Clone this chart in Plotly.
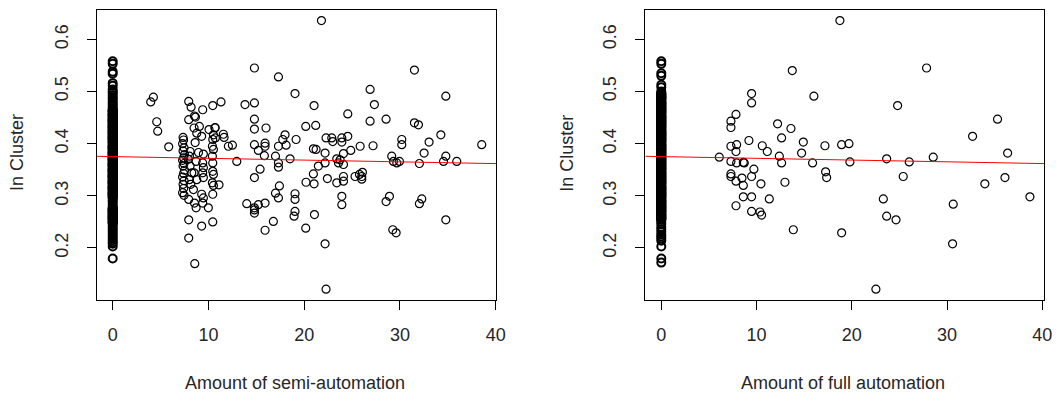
import plotly.graph_objects as go

# ---------------- data ----------------
# Left panel: semi-automation, observations at x = 0
semi_zero_y = [
    0.558, 0.553, 0.538, 0.534, 0.516, 0.511, 0.504, 0.500, 0.497, 0.493, 0.489, 0.486,
    0.482, 0.478, 0.475, 0.471, 0.468,
    0.465, 0.463, 0.461, 0.458, 0.456, 0.454, 0.452, 0.449, 0.447, 0.445, 0.443, 0.441,
    0.438, 0.436, 0.434, 0.432, 0.430, 0.427, 0.425, 0.423, 0.421, 0.419, 0.416, 0.414,
    0.412, 0.410, 0.408, 0.405, 0.403, 0.401, 0.397, 0.395, 0.393, 0.391, 0.389, 0.386,
    0.384, 0.382, 0.380, 0.378, 0.375, 0.373, 0.371, 0.369, 0.367, 0.364, 0.362, 0.360,
    0.358, 0.356, 0.353, 0.351, 0.349, 0.347, 0.345, 0.342, 0.340, 0.338, 0.336, 0.334,
    0.331, 0.329, 0.327, 0.325, 0.323, 0.320, 0.318, 0.316, 0.314, 0.312, 0.309, 0.307,
    0.305, 0.303, 0.301, 0.298, 0.296,
    0.464, 0.462, 0.460, 0.457, 0.455, 0.453, 0.450, 0.448, 0.446, 0.444, 0.442, 0.440,
    0.437, 0.435, 0.433, 0.431, 0.429, 0.426, 0.424, 0.422, 0.420, 0.418, 0.415, 0.413,
    0.411, 0.409, 0.407, 0.404, 0.402, 0.399, 0.396, 0.394, 0.392, 0.390, 0.388, 0.385,
    0.383, 0.381, 0.379, 0.376, 0.374, 0.372, 0.370, 0.368, 0.366, 0.363, 0.361, 0.359,
    0.357, 0.355, 0.352, 0.350, 0.348, 0.346, 0.344, 0.341, 0.339, 0.337, 0.335, 0.333,
    0.330, 0.328, 0.326, 0.324, 0.322, 0.319, 0.317, 0.315, 0.313, 0.311, 0.308, 0.306,
    0.304, 0.302, 0.300, 0.297,
    0.292, 0.289, 0.285, 0.281, 0.277, 0.275, 0.273, 0.271, 0.269, 0.267, 0.264, 0.262,
    0.260, 0.258, 0.256, 0.254, 0.251, 0.249, 0.247,
    0.276, 0.274, 0.272, 0.270, 0.268, 0.265, 0.263, 0.261, 0.259, 0.257, 0.255, 0.252,
    0.250, 0.248,
    0.243, 0.239, 0.235, 0.231, 0.227, 0.223, 0.219, 0.215, 0.211, 0.208, 0.203, 0.180,
]

semi_x = [
    3.97, 4.25, 4.60, 4.70, 5.85,
    7.35, 7.40, 7.30, 7.45, 7.35, 7.50, 7.40, 7.30, 7.45, 7.35, 7.50, 7.40, 7.30, 7.45,
    7.35, 7.40, 7.30, 7.45,
    7.94, 8.19, 7.94, 8.08, 8.01, 7.90, 8.08, 8.26, 8.01, 8.15, 7.94, 7.94, 7.94,
    8.54, 8.64, 8.50, 8.78, 8.61, 8.96, 8.71, 8.50, 8.78, 8.43, 8.54, 8.71, 8.57, 9.05,
    9.40, 9.29, 9.47, 9.40, 9.47, 9.40, 9.47, 9.29, 9.47, 9.40, 9.29,
    10.06, 9.99,
    10.45, 10.69, 10.52, 10.45, 10.41, 10.52, 10.41, 10.45, 10.45, 10.52, 10.41, 10.52,
    10.45, 10.45, 10.72, 10.69,
    11.31, 11.10, 11.56, 11.63, 12.08, 12.50, 12.96,
    13.82, 14.80, 14.80, 14.80, 14.80, 14.80, 15.21, 15.39, 14.80, 14.00, 14.80, 14.80,
    14.80, 15.21, 15.91, 16.01, 15.91, 15.91, 15.84, 15.91, 16.78, 17.00, 17.00, 17.31,
    17.31, 17.31, 17.31, 17.31, 17.41, 17.76, 18.00, 18.11, 18.52, 19.04, 19.15, 19.04,
    19.04, 19.04, 18.94, 20.16, 20.19, 20.16, 21.03, 21.20, 20.96, 21.24, 20.96, 21.03,
    21.07, 21.48, 21.80, 22.18, 22.18, 22.18, 22.28, 22.42, 22.28, 22.88, 22.98, 23.40,
    23.40, 23.58, 23.75, 23.93, 23.93, 23.93, 23.93, 24.10, 24.10, 24.10, 24.10, 24.55,
    24.55, 24.86, 25.31, 25.77, 25.84, 26.01, 26.01, 26.08, 26.88, 26.88, 27.19, 27.33,
    28.55, 28.55, 28.90, 29.14, 29.25, 29.60, 29.32, 29.67, 29.95, 30.19, 30.19, 31.51,
    31.51, 31.93, 32.03, 32.03, 32.28, 32.52, 33.04, 34.27, 34.55, 34.79, 34.79, 34.79,
    35.93, 38.54,
]
semi_y = [
    0.480, 0.489, 0.442, 0.424, 0.394,
    0.412, 0.407, 0.400, 0.392, 0.386, 0.379, 0.373, 0.368, 0.362, 0.357, 0.349, 0.343,
    0.336, 0.329, 0.322, 0.314, 0.306, 0.301,
    0.481, 0.470, 0.446, 0.385, 0.376, 0.370, 0.357, 0.344, 0.331, 0.322, 0.293, 0.254,
    0.219,
    0.453, 0.451, 0.430, 0.420, 0.402, 0.383, 0.366, 0.344, 0.331, 0.312, 0.286, 0.277,
    0.170, 0.433,
    0.465, 0.414, 0.380, 0.363, 0.354, 0.344, 0.335, 0.303, 0.296, 0.286, 0.242,
    0.427, 0.277,
    0.473, 0.430, 0.417, 0.408, 0.395, 0.389, 0.376, 0.363, 0.347, 0.341, 0.325, 0.320,
    0.303, 0.250, 0.411, 0.431,
    0.480, 0.321, 0.418, 0.412, 0.395, 0.397, 0.366,
    0.475, 0.545, 0.478, 0.447, 0.428, 0.398, 0.387, 0.351, 0.335, 0.285, 0.277, 0.273,
    0.267, 0.283, 0.286, 0.430, 0.401, 0.395, 0.377, 0.234, 0.251, 0.376, 0.305, 0.296,
    0.528, 0.395, 0.363, 0.355, 0.319, 0.408, 0.417, 0.397, 0.371, 0.496, 0.408, 0.304,
    0.293, 0.270, 0.261, 0.433, 0.326, 0.238, 0.473, 0.435, 0.390, 0.389, 0.342, 0.323,
    0.264, 0.357, 0.636, 0.382, 0.363, 0.208, 0.411, 0.333, 0.121, 0.411, 0.404, 0.371,
    0.325, 0.363, 0.369, 0.411, 0.403, 0.299, 0.283, 0.381, 0.360, 0.337, 0.328, 0.414,
    0.457, 0.387, 0.337, 0.341, 0.395, 0.337, 0.332, 0.345, 0.504, 0.443, 0.396, 0.475,
    0.447, 0.289, 0.299, 0.376, 0.235, 0.229, 0.366, 0.363, 0.366, 0.408, 0.398, 0.541,
    0.440, 0.436, 0.362, 0.285, 0.294, 0.382, 0.403, 0.417, 0.366, 0.254, 0.376, 0.491,
    0.366, 0.398,
]

# Right panel: full automation, observations at x = 0
full_zero_y = [
    0.558, 0.553, 0.535, 0.530, 0.513, 0.508, 0.500,
    0.497, 0.495, 0.493, 0.491, 0.489, 0.487, 0.485, 0.482, 0.480, 0.478, 0.476, 0.474,
    0.472, 0.470, 0.468, 0.466, 0.464, 0.462, 0.460, 0.458, 0.455, 0.453, 0.451, 0.449,
    0.447, 0.445, 0.443, 0.441, 0.439, 0.437, 0.435, 0.433, 0.431, 0.428, 0.426, 0.424,
    0.422, 0.420, 0.418, 0.416, 0.414, 0.412, 0.410, 0.408, 0.406, 0.404, 0.401, 0.399,
    0.397, 0.395, 0.393, 0.391, 0.389, 0.387, 0.385, 0.383, 0.381, 0.379, 0.377, 0.374,
    0.372, 0.370, 0.368, 0.366, 0.364, 0.362, 0.360, 0.358, 0.356, 0.354, 0.352, 0.350,
    0.347, 0.345, 0.343, 0.341, 0.339, 0.337, 0.335, 0.333, 0.331, 0.329, 0.327, 0.325,
    0.323, 0.320, 0.318, 0.316, 0.314, 0.312, 0.310, 0.308, 0.306, 0.304, 0.302, 0.300,
    0.298, 0.296, 0.293, 0.291, 0.289, 0.287, 0.285, 0.283, 0.281, 0.279, 0.277, 0.275,
    0.273, 0.271, 0.269, 0.266, 0.264, 0.262, 0.260, 0.258, 0.256, 0.254,
    0.496, 0.494, 0.492, 0.490, 0.488, 0.486, 0.484, 0.481, 0.479, 0.477, 0.475, 0.473,
    0.471, 0.469, 0.467, 0.465, 0.463, 0.461, 0.459, 0.457, 0.454, 0.452, 0.450, 0.448,
    0.446, 0.444, 0.442, 0.440, 0.438, 0.436, 0.434, 0.432, 0.430, 0.427, 0.425, 0.423,
    0.421, 0.419, 0.417, 0.415, 0.413, 0.411, 0.409, 0.407, 0.405, 0.403, 0.400, 0.398,
    0.396, 0.394, 0.392, 0.390, 0.388, 0.386, 0.384, 0.382, 0.380, 0.378, 0.376, 0.373,
    0.371, 0.369, 0.367, 0.365, 0.363, 0.361, 0.359, 0.357, 0.355, 0.353, 0.351, 0.349,
    0.346, 0.344, 0.342, 0.340, 0.338, 0.336, 0.334, 0.332, 0.330, 0.328, 0.326, 0.324,
    0.322, 0.319, 0.317, 0.315, 0.313, 0.311, 0.309, 0.307, 0.305, 0.303, 0.301, 0.299,
    0.297, 0.295, 0.292, 0.290, 0.288, 0.286, 0.284, 0.282, 0.280, 0.278, 0.276, 0.274,
    0.272, 0.270, 0.268, 0.265, 0.263, 0.261, 0.259, 0.257, 0.255,
    0.250, 0.246, 0.240, 0.236, 0.231, 0.226, 0.222, 0.218, 0.214, 0.203, 0.180, 0.172,
]

full_x = [
    6.09, 7.31, 7.31, 7.84, 7.31, 7.91, 7.84, 7.31, 7.91, 7.31, 7.31, 7.84, 7.84,
    8.61, 8.71, 8.47, 8.61, 8.61, 9.20, 9.48, 9.48, 9.48, 9.72, 9.48, 9.48,
    10.60, 11.13, 10.46, 10.36, 10.53, 11.34, 12.21, 12.39, 12.63, 12.63, 12.98,
    13.61, 13.75, 13.86, 14.73, 14.91, 15.88, 16.02, 17.18, 17.25, 17.36, 18.75, 18.93,
    18.93, 19.70, 19.80, 22.53, 23.31, 23.66, 23.66, 24.64, 24.81, 25.40, 26.03,
    27.85, 28.55, 30.58, 30.65, 32.68, 33.97, 35.30, 36.08, 36.36, 38.70,
]
full_y = [
    0.374, 0.443, 0.431, 0.456, 0.395, 0.398, 0.385, 0.366, 0.363, 0.342, 0.337, 0.328,
    0.281,
    0.364, 0.363, 0.334, 0.320, 0.298, 0.406, 0.496, 0.478, 0.337, 0.351, 0.298, 0.270,
    0.396, 0.385, 0.323, 0.269, 0.263, 0.294, 0.438, 0.376, 0.411, 0.363, 0.326,
    0.429, 0.540, 0.235, 0.382, 0.403, 0.363, 0.491, 0.396, 0.346, 0.335, 0.636, 0.398,
    0.229, 0.400, 0.365, 0.121, 0.294, 0.371, 0.261, 0.254, 0.473, 0.337, 0.365,
    0.545, 0.374, 0.208, 0.284, 0.414, 0.323, 0.447, 0.335, 0.382, 0.298,
]

# fitted regression lines (intercept, slope)
semi_fit = (0.3752, -0.000336)
full_fit = (0.3752, -0.000334)

x_ticks = [0, 10, 20, 30, 40]
y_ticks = [0.2, 0.3, 0.4, 0.5, 0.6]
y_tick_labels = ["0.2", "0.3", "0.4", "0.5", "0.6"]
y_title = "In Cluster"
x_titles = ["Amount of semi-automation", "Amount of full automation"]

# ---------------- figure ----------------
W, H = 1060, 394
FONT = "Arial, Liberation Sans, sans-serif"
TXT = "#262626"

x_range_left = [-1.64, 40.03]
x_range_right = [-1.68, 40.21]
y_range = [0.1003, 0.6562]

fig = go.Figure()

marker = dict(symbol="circle-open", size=8, color="black", line=dict(width=1.2, color="black"))
marker_dense = dict(symbol="circle-open", size=8, color="black", line=dict(width=2, color="black"))

fig.add_trace(go.Scatter(x=[0] * len(semi_zero_y), y=semi_zero_y, mode="markers",
                         marker=marker_dense, xaxis="x", yaxis="y", hoverinfo="skip"))
fig.add_trace(go.Scatter(x=semi_x, y=semi_y, mode="markers",
                         marker=marker, xaxis="x", yaxis="y"))
fig.add_trace(go.Scatter(x=[0] * len(full_zero_y), y=full_zero_y, mode="markers",
                         marker=marker_dense, xaxis="x2", yaxis="y2", hoverinfo="skip"))
fig.add_trace(go.Scatter(x=full_x, y=full_y, mode="markers",
                         marker=marker, xaxis="x2", yaxis="y2"))

for fit, xr, xa, ya in [(semi_fit, x_range_left, "x", "y"), (full_fit, x_range_right, "x2", "y2")]:
    a, b = fit
    fig.add_trace(go.Scatter(x=xr, y=[a + b * xr[0], a + b * xr[1]], mode="lines",
                             line=dict(color="#ff0000", width=1), xaxis=xa, yaxis=ya,
                             hoverinfo="skip"))

dom_left = [97 / W, 496 / W]
dom_right = [645.3 / W, 1044.3 / W]
dom_y = [1 - 300 / H, 1 - 10 / H]

common_x = dict(tickvals=x_ticks, ticks="outside", ticklen=9, tickwidth=1, tickcolor="black",
                showline=True, linecolor="black", linewidth=1, mirror=True,
                showgrid=False, zeroline=False, tickfont=dict(family=FONT, size=18, color=TXT),
                ticklabelstandoff=9)
common_y = dict(tickvals=y_ticks, ticktext=y_tick_labels, ticks="outside", ticklen=9,
                tickwidth=1, tickcolor="black", showline=True, linecolor="black", linewidth=1,
                mirror=True, showgrid=False, zeroline=False, tickangle=-90, range=y_range,
                tickfont=dict(family=FONT, size=18, color=TXT), ticklabelstandoff=12)

fig.update_layout(
    width=W, height=H,
    margin=dict(l=0, r=0, t=0, b=0, autoexpand=False),
    paper_bgcolor="white", plot_bgcolor="white",
    showlegend=False,
    xaxis=dict(domain=dom_left, range=x_range_left, anchor="y", **common_x),
    yaxis=dict(domain=dom_y, anchor="x", **common_y),
    xaxis2=dict(domain=dom_right, range=x_range_right, anchor="y2", **common_x),
    yaxis2=dict(domain=dom_y, anchor="x2", **common_y),
)

ann_font = dict(family=FONT, size=18, color=TXT)
fig.add_annotation(text=y_title, x=17 / W, y=1 - 153 / H, xref="paper", yref="paper",
                   textangle=-90, showarrow=False, font=ann_font, xanchor="center", yanchor="middle")
fig.add_annotation(text=y_title, x=566.7 / W, y=1 - 153 / H, xref="paper", yref="paper",
                   textangle=-90, showarrow=False, font=ann_font, xanchor="center", yanchor="middle")
fig.add_annotation(text=x_titles[0], x=295 / W, y=1 - 383 / H, xref="paper", yref="paper",
                   showarrow=False, font=ann_font, xanchor="center", yanchor="middle")
fig.add_annotation(text=x_titles[1], x=843.3 / W, y=1 - 383 / H, xref="paper", yref="paper",
                   showarrow=False, font=ann_font, xanchor="center", yanchor="middle")

fig.write_html("out.html", config={"displayModeBar": False},
               post_script="document.body.style.margin='0px';")
